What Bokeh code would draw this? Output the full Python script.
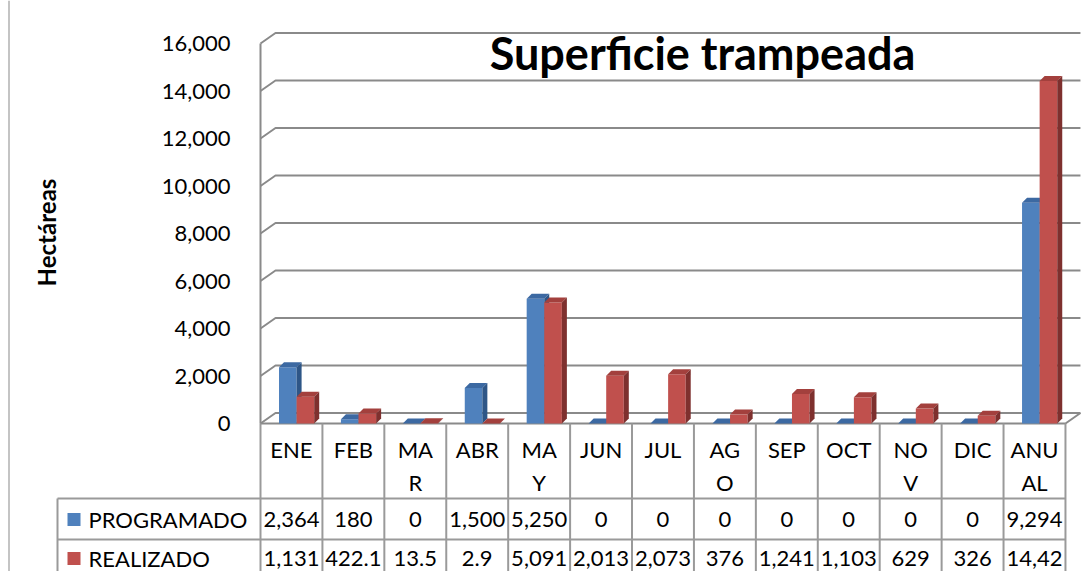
from bokeh.plotting import figure
from bokeh.models import Range1d, LinearAxis, FixedTicker, NumeralTickFormatter, Label
from bokeh.core.properties import value
from bokeh.embed import file_html
from bokeh.resources import INLINE

# ---------------- data ----------------
categories = ["ENE", "FEB", "MAR", "ABR", "MAY", "JUN", "JUL", "AGO", "SEP", "OCT", "NOV", "DIC", "ANUAL"]
category_labels = ["ENE", "FEB", "MA\nR", "ABR", "MA\nY", "JUN", "JUL", "AG\nO", "SEP", "OCT", "NO\nV", "DIC", "ANU\nAL"]
programado = [2364, 180, 0, 1500, 5250, 0, 0, 0, 0, 0, 0, 0, 9294]
realizado = [1131, 422.1, 13.5, 2.9, 5091, 2013, 2073, 376, 1241, 1103, 629, 326, 14421.5]
programado_labels = ["2,364", "180", "0", "1,500", "5,250", "0", "0", "0", "0", "0", "0", "0", "9,294"]
realizado_labels = ["1,131", "422.1", "13.5", "2.9", "5,091", "2,013", "2,073", "376", "1,241", "1,103", "629", "326", "14,42"]
series_names = ["PROGRAMADO", "REALIZADO"]
y_ticks = [0, 2000, 4000, 6000, 8000, 10000, 12000, 14000, 16000]
title_text = "Superficie trampeada"
y_title = "Hectáreas"

# ---------------- layout constants (pixels) ----------------
W, H = 1083, 571
X0 = 260.0      # x pixel of category 0 start
CW = 61.92      # pixels per category
Y0 = 423.0      # y pixel of value 0
PY = 0.02375    # pixels per unit value
FONT = "Lato"

def dxp(px):
    return px / CW

def dyp(px):
    return px / PY

def sx(cx):
    return (cx - X0) / CW

def sy(cy):
    return (Y0 - cy) / PY

n = len(categories)
WDX, WDY = dxp(15), dyp(10.5)   # wall depth
BDX, BDY = dxp(5), dyp(5)       # bar depth
BAR_OFF, BAR_W = dxp(18.5), dxp(17.6)

p = figure(width=W, height=H, output_backend="svg", toolbar_location=None,
           x_axis_type=None, y_axis_type=None,
           x_range=Range1d(sx(0), sx(W)), y_range=Range1d(sy(H), sy(0)),
           min_border=0, min_border_left=0, min_border_right=0,
           min_border_top=0, min_border_bottom=0)
p.outline_line_color = None
p.xgrid.visible = False
p.ygrid.visible = False
p.background_fill_color = "white"
p.border_fill_color = "white"

GRID = "#8a8a8a"
TABLE = "#9a9a9a"

# gridlines on side wall and back wall
gx = [[0, WDX, n + WDX] for v in y_ticks]
gy = [[v, v + WDY, v + WDY] for v in y_ticks]
p.multi_line(gx, gy, line_color=GRID, line_width=2)

# floor front + right edge
p.line([0, n, n + WDX], [0, 0, WDY], line_color=GRID, line_width=2)

# y axis at the front-left corner
yaxis = LinearAxis(fixed_location=0, bounds=(0, 16000),
                   ticker=FixedTicker(ticks=y_ticks),
                   formatter=NumeralTickFormatter(format="0,0"))
yaxis.axis_line_color = GRID
yaxis.axis_line_width = 2
yaxis.major_tick_line_color = None
yaxis.minor_tick_line_color = None
yaxis.major_tick_out = 0
yaxis.major_tick_in = 0
yaxis.major_label_standoff = 30
yaxis.major_label_text_font = FONT
yaxis.major_label_text_font_size = "22px"
yaxis.major_label_text_color = "black"
p.add_layout(yaxis, "left")

# bars
series = [
    (programado, "#4F81BD", "#3C69A2", "#2E5687", 0),
    (realizado, "#C0504D", "#A3403D", "#7E302E", 1),
]
for vals, c_front, c_top, c_side, k in series:
    lefts = [i + BAR_OFF + k * BAR_W for i in range(n)]
    rights = [l + BAR_W for l in lefts]
    p.quad(left=lefts, right=rights, bottom=[0] * n, top=vals,
           fill_color=c_front, line_color=None)
    top_xs = [[l, r, r + BDX, l + BDX] for l, r in zip(lefts, rights)]
    top_ys = [[h, h, h + BDY, h + BDY] for h in vals]
    p.patches(top_xs, top_ys, fill_color=c_top, line_color=None)
    side_xs = [[r, r + BDX, r + BDX, r] for r in rights]
    side_ys = [[0, BDY, h + BDY, h] for h in vals]
    p.patches(side_xs, side_ys, fill_color=c_side, line_color=None)

# data table lines
vxs = [[i, i] for i in range(n + 1)]
vys = [[0, sy(H)] for i in range(n + 1)]
p.multi_line(vxs, vys, line_color=TABLE, line_width=2)
p.multi_line([[sx(57), n], [sx(57), n]], [[sy(498), sy(498)], [sy(539), sy(539)]],
             line_color=TABLE, line_width=2)
p.line([sx(57), sx(57)], [sy(498), sy(H)], line_color=TABLE, line_width=2)
# outer chart border on the left
p.line([sx(8.5), sx(8.5)], [sy(0), sy(H)], line_color="#b0b0b0", line_width=1.5)

# table header (category labels, wrapped)
centers = [i + 0.5 for i in range(n)]
line1 = [s.split("\n")[0] for s in category_labels]
line2 = [s.split("\n")[1] if "\n" in s else "" for s in category_labels]
common = dict(text_font=value(FONT), text_font_size="22px", text_color="black",
              text_align="center", text_baseline="middle")
p.text(x=centers, y=[sy(449)] * n, text=line1, **common)
p.text(x=centers, y=[sy(482)] * n, text=line2, **common)
p.text(x=centers, y=[sy(519)] * n, text=programado_labels, **common)
p.text(x=centers, y=[sy(558)] * n, text=realizado_labels, **common)

# legend keys inside the table
p.rect(x=[sx(73.5), sx(73.5)], y=[sy(519), sy(558)], width=dxp(13), height=dyp(13),
       fill_color=["#4F81BD", "#C0504D"], line_color=None)
p.text(x=[sx(88), sx(88)], y=[sy(519), sy(558)], text=series_names,
       text_font=value(FONT), text_font_size="22px", text_color="black",
       text_align="left", text_baseline="middle")

# title and y title
p.add_layout(Label(x=sx(702), y=sy(52), text=title_text, text_font=FONT,
                   text_font_size="45px", text_font_style="bold", text_color="black",
                   text_align="center", text_baseline="middle"))
p.add_layout(Label(x=sx(46), y=sy(232), text=y_title, text_font=FONT,
                   text_font_size="24px", text_font_style="bold", text_color="black",
                   text_align="center", text_baseline="middle", angle=1.5708))

open("out.html", "w").write(file_html(p, INLINE))
